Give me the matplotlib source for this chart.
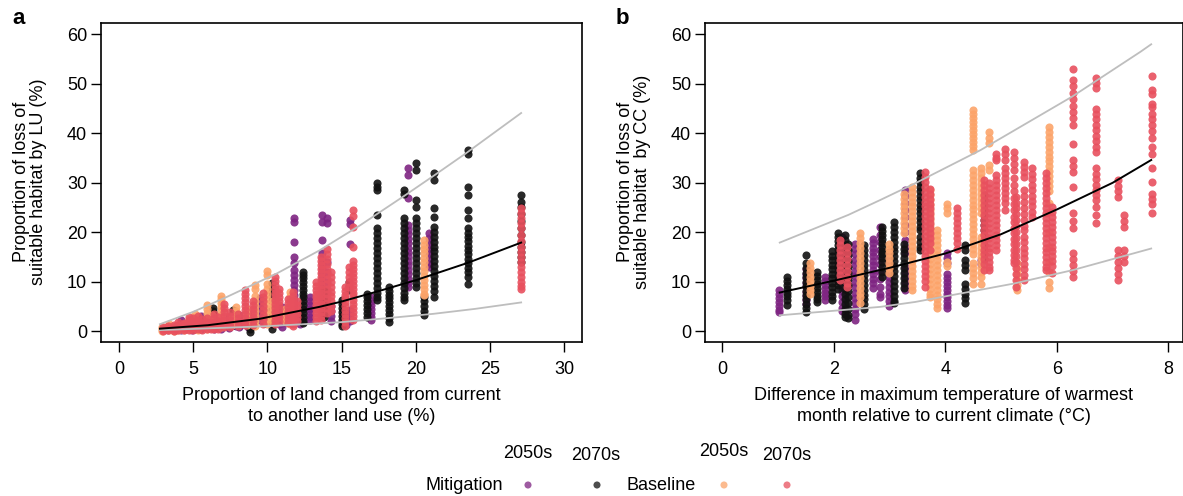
import matplotlib
matplotlib.use("Agg")
import matplotlib.pyplot as plt

plt.rcParams['font.family'] = ['Liberation Sans', 'DejaVu Sans']

# colours: mitigation 2050s / 2070s, baseline 2050s / 2070s
c_mit50 = '#7E2482'
c_mit70 = '#111111'
c_base50 = '#FCA46A'
c_base70 = '#E8505E'

# ---- panel a : loss by land use vs proportion of land changed ----
# each entry: (x, [y values in that column])
lu_mit50 = [
    (3.3, [0.2, 0.7]),
    (3.7, [0.3, 0.9]),
    (4.2, [0.3, 0.9, 1.6, 2.3]),
    (4.9, [0.2, 0.8, 1.4]),
    (5.1, [0.5, 1.2, 2.0]),
    (5.5, [0.4, 1.0, 1.7, 2.4, 3.0]),
    (6.0, [0.6, 1.3, 2.1, 2.9]),
    (6.4, [0.4, 1.1, 1.8]),
    (6.9, [0.5, 1.2, 2.0]),
    (7.4, [0.6, 1.3, 2.0, 2.8]),
    (7.9, [1.0, 1.8, 2.6, 3.4]),
    (8.1, [0.8, 1.6, 2.4, 3.2]),
    (8.7, [0.9, 1.7, 2.5, 3.3, 4.1]),
    (9.5, [6.7, 6.0, 5.2, 4.4, 3.6, 2.8, 2.2]),
    (9.8, [4.8, 4.0, 3.2, 2.4, 1.6]),
    (10.8, [1.5, 2.3, 3.1]),
    (11.0, [4.9, 4.1, 3.3, 2.5, 1.7, 0.9]),
    (11.8, [22.8, 22.1, 18.1, 15.0, 13.7, 12.3, 11.3, 10.3, 9.3, 8.3, 7.3, 6.3, 5.3, 4.3, 3.3, 2.3]),
    (12.2, [3.0, 2.2, 1.5]),
    (12.9, [6.9, 6.1, 5.3, 4.5, 3.7, 2.9, 2.2]),
    (13.7, [23.5, 22.1, 18.4, 15.8, 14.8, 13.8, 12.8, 11.8, 10.8, 9.8, 8.8, 7.8, 6.8, 5.8, 4.8, 3.8, 3.0]),
    (14.0, [22.8, 21.8, 14.0, 12.0, 10.0, 8.0]),
    (14.3, [5.0, 4.0, 3.0, 2.0]),
    (15.3, [2.8, 2.0, 1.3]),
    (15.6, [22.4, 21.7, 17.7, 4.2, 3.4, 2.6, 2.0]),
    (17.0, [6.9, 6.1, 5.3, 4.5, 3.7, 2.9, 2.3]),
    (19.5, [32.9, 31.5, 27.0, 21.4, 20.5, 19.6, 18.7, 17.8, 16.9, 16.0, 15.1, 14.2, 13.3, 12.4, 11.5, 10.6, 9.7, 9.0]),
    (20.9, [19.8, 18.9, 18.0, 17.1, 16.2, 15.3, 14.4, 13.5, 13.0]),
]
lu_mit70 = [
    (6.35, [4.6, 4.0, 3.4, 2.8, 2.2, 1.6]),
    (7.7, [4.2, 3.6, 3.0, 2.4, 1.8, 1.2]),
    (8.8, [2.9, 1.6, 0.4, -0.2]),
    (10.3, [9.7, 9.0, 8.0, 7.0, 6.0, 4.5, 3.0, 1.5, 0.5]),
    (12.4, [12.0, 11.4, 10.8, 10.0, 9.2, 8.4, 7.6, 6.8, 6.0, 5.2, 4.4, 3.6, 2.8, 2.0, 1.6]),
    (13.8, [8.4, 7.6, 6.8, 6.0, 5.2, 4.4, 3.6, 2.9]),
    (15.0, [6.3, 5.5, 4.7, 3.9, 3.1, 2.3, 1.5, 1.0]),
    (15.5, [10.0, 9.2, 8.4]),
    (16.7, [7.6, 6.8, 6.0, 5.2, 4.4, 3.6, 2.9]),
    (17.4, [29.9, 29.2, 28.5, 23.5, 20.8, 19.8, 18.8, 17.8, 16.8, 15.8, 14.8, 13.8, 12.8, 11.8, 10.8, 9.8, 8.8, 7.8, 6.8, 6.3]),
    (18.2, [9.0, 8.2, 7.4, 6.6, 5.8, 5.0, 4.2, 3.4, 2.6, 1.9]),
    (19.2, [28.5, 27.8, 22.8, 21.8, 20.8, 19.8, 18.8, 17.8, 16.8, 15.8, 14.8, 13.8, 12.8, 11.8, 10.8, 9.8, 8.8, 7.8, 6.8, 6.3]),
    (20.0, [33.9, 32.6, 26.5, 25.1, 22.8, 21.8, 20.8, 19.8, 18.8, 17.8, 16.8, 15.8, 14.8, 13.8, 12.8, 11.8, 10.8, 9.8, 9.0]),
    (20.55, [6.9, 6.0, 5.0, 4.0, 3.2]),
    (21.2, [31.9, 30.6, 24.8, 23.1, 21.1, 20.1, 19.1, 18.1, 17.1, 16.1, 15.1, 14.1, 13.1, 12.1, 11.1, 10.1, 9.1, 8.1, 6.9]),
    (23.5, [36.6, 35.9, 29.2, 27.5, 24.5, 22.8, 20.8, 19.8, 19.1, 18.2, 17.3, 16.4, 15.5, 14.6, 13.7, 12.8, 11.9, 11.0, 9.6]),
    (27.1, [27.5, 26.2, 25.0, 23.7, 22.2, 20.8, 19.4, 18.1, 17.0, 16.0, 15.0, 14.0]),
]
lu_base50 = [
    (2.9, [0.1, 0.5, 0.9]),
    (3.4, [0.2, 0.6, 1.1, 1.5]),
    (3.7, [0.1, 0.5, 0.9]),
    (4.0, [0.3, 0.8, 1.3]),
    (4.4, [0.3, 0.9, 1.5]),
    (4.7, [0.4, 1.0, 1.7, 2.4]),
    (5.1, [0.6, 1.3, 2.0, 2.7, 3.4]),
    (5.3, [0.3, 0.9, 1.6]),
    (5.9, [5.3, 4.5, 3.7, 2.9, 2.1, 1.3, 0.5]),
    (6.3, [0.8, 1.6, 2.4, 3.2]),
    (6.9, [7.2, 6.4, 5.6, 4.8, 4.0, 3.2, 2.4, 1.6, 0.8]),
    (7.6, [1.2, 2.0, 2.8]),
    (7.9, [1.6, 2.4, 3.2, 4.0, 4.8]),
    (8.6, [1.2, 2.0, 2.8, 3.6, 4.4]),
    (9.2, [9.3, 8.5, 7.0, 6.0, 5.0, 4.0, 3.0, 2.0, 1.0]),
    (9.95, [12.2, 11.4, 9.5, 8.5, 7.5, 6.5, 5.5, 4.5, 3.5, 2.5, 1.5]),
    (10.4, [2.0, 3.0, 4.0, 5.0, 6.0]),
    (11.2, [2.0, 2.8, 3.6, 4.4]),
    (11.5, [7.9, 7.1, 6.3, 5.5, 4.7, 3.9, 3.1, 2.3, 1.5]),
    (20.55, [18.4, 17.5, 16.6, 15.7, 14.8, 13.9, 13.0, 12.1, 11.2, 10.3, 9.4, 8.5, 7.6, 7.3]),
]
lu_base70 = [
    (3.0, [0.0, 0.4, 0.8]),
    (3.3, [0.2, 0.6, 1.0]),
    (3.7, [0.1, 0.5, 0.9, 1.3]),
    (4.0, [0.3, 0.8, 1.3, 1.9]),
    (4.4, [0.2, 0.7, 1.2, 1.7]),
    (4.7, [0.3, 0.9, 1.5, 2.2, 2.9]),
    (5.0, [0.2, 0.8, 1.4, 2.0, 2.6]),
    (5.3, [0.4, 1.0, 1.6, 2.3, 3.0]),
    (5.6, [0.3, 1.0, 1.7, 2.4]),
    (5.9, [0.4, 1.1, 1.8, 2.6]),
    (6.2, [0.4, 1.0, 1.6]),
    (6.4, [0.5, 1.2, 1.9, 2.7, 3.4]),
    (6.7, [0.5, 1.2, 2.0, 2.8]),
    (7.1, [5.5, 4.7, 3.9, 3.1, 2.3, 1.5, 0.8]),
    (7.5, [0.9, 1.6, 2.3, 3.1, 3.9]),
    (8.0, [1.0, 1.8, 2.6, 3.4]),
    (8.5, [8.3, 7.5, 6.7, 5.9, 5.1, 4.3, 3.5, 2.7, 1.9, 1.2]),
    (9.0, [1.2, 2.0, 2.8, 3.6, 4.4, 5.2, 6.0]),
    (9.7, [1.5, 2.4, 3.3, 4.2, 5.1, 6.0, 6.9, 7.8]),
    (10.5, [11.0, 10.2, 9.4, 8.6, 7.8, 7.0, 6.2, 5.4, 4.6, 3.8, 3.0, 2.2, 1.4]),
    (10.8, [8.5, 7.7, 6.9, 6.1, 5.3, 4.5, 3.7, 2.9, 2.1]),
    (11.4, [6.5, 5.7, 4.9, 4.1, 3.3, 2.5, 1.7]),
    (11.7, [7.9, 7.1, 6.3, 5.5, 4.7, 3.9, 3.1, 2.3, 1.5, 1.0]),
    (12.0, [6.0, 5.2, 4.4, 3.6, 2.8, 2.0]),
    (13.3, [10.0, 9.2, 8.4, 7.6, 6.8, 6.0, 5.2, 4.4, 3.6, 2.8, 2.0]),
    (13.6, [15.0, 14.2, 13.4, 12.6, 11.8, 11.0, 10.2, 9.4, 8.6, 7.8, 7.0, 6.2, 5.4, 4.6, 3.8, 3.0, 2.2]),
    (14.0, [16.6, 15.6, 14.6, 13.6, 12.6, 11.6, 10.6, 9.6, 8.6, 7.6, 6.6, 5.6, 4.6, 3.6]),
    (14.3, [12.0, 11.0, 10.0, 9.0, 8.0, 7.0, 6.0, 5.0, 4.0]),
    (15.2, [9.0, 8.2, 7.4, 6.6, 5.8, 5.0, 4.2, 3.4, 2.6, 1.8, 1.0]),
    (15.5, [13.0, 12.0, 11.0, 10.0, 9.0]),
    (15.8, [24.5, 23.3, 21.1, 17.1, 14.2, 13.4, 12.6, 11.8, 11.0, 10.2, 9.4, 8.6, 7.8, 7.0, 6.2, 5.4, 4.6, 3.8, 3.0, 2.2]),
    (27.1, [24.8, 23.8, 22.8, 21.8, 20.8, 19.5, 18.2, 17.0, 16.0, 15.0, 14.0, 13.0, 12.0, 11.0, 10.0, 9.2, 8.6]),
]
# fitted curve and bounds
lu_fit_x = [2.76, 6.0, 9.5, 13.5, 14.9, 17.4, 20.0, 23.5, 27.1]
lu_fit_y = [0.5, 1.2, 2.5, 4.9, 5.9, 8.0, 10.3, 13.8, 17.9]
lu_up_x = [2.76, 5.0, 7.26, 10.6, 13.5, 16.2, 19.2, 21.2, 23.4, 27.1]
lu_up_y = [1.4, 3.9, 6.9, 11.6, 16.3, 21.3, 27.3, 31.4, 36.0, 44.1]
lu_lo_x = [2.76, 10.0, 14.9, 18.0, 21.2, 24.0, 27.1]
lu_lo_y = [0.2, 1.0, 1.8, 2.6, 3.5, 4.5, 5.8]

# ---- panel b : loss by climate change vs warming ----
cc_mit50 = [
    (1.02, [8.3, 7.5, 6.7, 5.9, 5.1, 4.3, 3.9]),
    (1.50, [12.5, 11.6, 10.7, 9.8, 8.9, 8.0, 7.1, 6.2, 5.5]),
    (1.84, [11.0, 10.2, 9.4, 8.6, 7.8, 7.0, 6.2]),
    (2.15, [19.0, 17.8, 16.6, 15.4, 14.2, 13.0, 11.8, 10.6, 9.4, 8.2, 7.0, 5.8, 4.6, 4.0]),
    (2.38, [17.7, 16.6, 15.5, 14.4, 13.3, 12.2, 11.1, 10.0, 8.9, 7.8, 6.7, 5.6, 4.5, 3.4, 2.2]),
    (2.71, [18.7, 17.8, 16.9, 16.0, 15.1, 14.2, 13.3, 12.4, 11.5, 10.6, 9.7, 8.8]),
    (2.83, [21.0, 19.5, 18.0, 16.5, 15.0, 13.5, 12.0, 10.5, 9.0, 7.5, 6.9]),
    (2.98, [16.0, 15.0, 14.0, 13.0, 12.0, 11.0, 10.0, 9.0, 8.0, 7.0, 6.0, 5.0]),
    (3.28, [28.5, 27.3, 26.0, 24.5, 23.0, 21.5, 20.0, 18.5, 17.0, 15.7, 13.0, 12.0, 11.0, 10.0, 9.0, 8.3]),
    (4.03, [15.7, 14.7, 13.7, 11.6, 10.8, 10.0, 9.2, 8.4, 7.6, 6.8, 6.0, 5.2, 4.6]),
    (4.63, [14.3, 13.5]),
]
cc_mit70 = [
    (1.16, [11.0, 10.2, 9.4, 8.6, 7.8, 7.0, 6.2, 5.3]),
    (1.50, [15.4, 13.7, 12.7, 11.8, 10.9, 10.0, 9.1, 8.2, 7.3, 6.4, 5.5, 4.6, 3.9]),
    (1.69, [12.0, 11.2, 10.4, 9.6, 8.8, 8.0, 7.2, 6.4, 5.9]),
    (1.96, [16.1, 15.2, 14.3, 13.4, 12.5, 11.6, 10.7, 9.8, 8.9, 8.0, 7.1, 6.2]),
    (2.08, [19.8, 19.0, 18.2, 17.4, 16.6, 15.8, 15.0, 14.2, 13.4, 12.6, 11.8, 11.0, 10.2, 9.4, 8.6]),
    (2.20, [19.5, 18.5, 17.5, 16.5, 15.5, 14.5, 13.5, 12.5, 11.5, 10.5, 9.5, 8.5, 7.5, 6.5, 5.5, 4.5, 3.5, 2.9]),
    (2.26, [17.7, 16.5, 15.3, 14.1, 12.9, 11.7, 10.5, 9.3, 8.1, 6.9, 5.7, 4.5, 3.3, 2.6]),
    (2.54, [17.4, 16.4, 15.4, 14.4, 13.4, 12.4, 11.4, 10.4, 9.4, 8.4, 7.4, 6.4, 5.4, 4.5]),
    (2.86, [21.1, 20.3, 19.5, 18.7, 17.9, 17.1, 16.3, 15.5, 14.7, 13.9, 13.0, 12.0, 11.0]),
    (3.07, [22.1, 21.1, 20.1, 19.1, 18.1, 17.1, 16.1, 15.1, 14.1, 13.1, 12.1, 11.1, 10.1, 9.1, 8.1, 7.1, 6.1, 5.6]),
    (3.25, [17.7, 16.7, 15.7, 14.7, 13.7, 12.7, 11.7, 10.7, 9.7, 8.7]),
    (3.55, [31.9, 31.0, 30.1, 29.2, 28.3, 27.4, 26.5, 25.6, 24.7, 23.8, 22.9, 22.0, 21.1, 20.4, 19.0, 18.0, 17.0, 16.4]),
    (4.36, [17.4, 16.5, 14.3, 13.3, 12.3, 9.6, 8.6, 7.6, 6.6, 5.6]),
    (4.69, [27.5, 26.5, 25.5, 24.5, 23.5, 22.5, 21.5, 20.5, 19.5, 18.5, 17.5, 16.5, 15.5, 14.5]),
]
cc_base50 = [
    (1.57, [13.7, 12.8, 11.9, 11.0, 10.1, 9.2, 8.3, 7.6]),
    (2.47, [19.8, 18.8, 17.8, 16.8, 15.8, 14.8, 13.8, 12.8, 11.8, 10.8, 9.8, 8.8, 7.8, 6.8, 5.6]),
    (2.98, [17.7, 16.7, 15.7, 14.7, 13.7, 12.7, 11.8]),
    (3.25, [27.8, 26.8, 25.8, 24.8, 23.8, 22.8, 21.8, 20.8, 19.8]),
    (3.40, [29.2, 28.2, 27.2, 26.2, 25.2, 24.2, 23.2, 22.2, 21.2, 20.2, 19.2, 18.2, 17.2, 16.2,
            15.2, 14.2, 13.2, 12.2, 11.2, 10.2, 9.2, 8.3]),
    (3.73, [28.5, 27.5, 26.5, 25.5, 24.5, 23.5, 22.5, 21.5, 20.5, 19.5, 18.5, 17.5, 16.5, 15.5,
            14.5, 13.5, 12.5, 11.5, 10.5, 9.5, 8.5, 7.5, 6.9]),
    (3.85, [20.4, 19.4, 18.4, 17.4, 16.4, 15.4, 14.4, 13.4, 12.4, 11.4, 10.4, 9.4, 8.4, 7.4, 6.4, 5.4, 4.6]),
    (4.03, [25.7, 24.8, 23.8, 14.0, 13.2]),
    (4.49, [44.7, 43.9, 43.1, 42.3, 41.5, 40.7, 39.9, 39.1, 38.3, 37.5, 36.6, 32.6, 31.6, 30.6, 29.6,
            28.6, 27.6, 26.6, 25.6, 24.6, 23.6, 22.6, 21.6, 20.6, 19.6, 18.6, 17.6, 16.6, 15.6, 13.7,
            12.7, 11.7, 10.7, 9.6]),
    (4.63, [32.9, 31.9, 30.9, 29.9, 28.9, 27.9, 26.9, 25.9, 24.9, 23.8, 19.0, 18.0, 17.0, 16.0,
            15.0, 14.0, 13.0, 12.0, 11.0, 9.6]),
    (4.78, [40.3, 39.1, 38.0, 33.6, 32.5]),
    (5.29, [13.7, 12.6, 11.5, 10.4, 9.3, 8.3]),
    (5.86, [41.3, 40.3, 39.3, 38.3, 37.3, 36.3, 35.3, 34.3, 33.3, 32.3, 31.3, 30.3, 29.3, 28.3,
            26.0, 24.0, 20.0, 17.0, 14.0, 12.0, 10.0, 8.8]),
]
cc_base70 = [
    (2.11, [18.4, 17.4, 16.4, 15.4, 14.4, 13.4, 12.4, 11.4, 10.3]),
    (2.23, [17.0, 15.8, 14.6, 13.4, 12.2, 11.0, 9.8, 8.9]),
    (3.64, [32.2, 31.2, 30.2, 29.2, 28.2, 27.2, 26.2, 25.2, 24.2, 23.2, 22.2, 21.2, 20.2, 19.2,
            18.2, 17.2, 16.2, 15.2, 14.2, 13.2, 12.2, 11.2, 10.2, 9.0]),
    (3.73, [28.8, 27.8, 26.8, 25.8, 24.8, 23.8, 22.8, 21.8, 20.8, 19.8, 18.8, 17.8, 16.4]),
    (4.21, [24.8, 23.8, 22.8, 21.8, 20.8, 19.8, 18.8, 17.8, 16.7]),
    (4.69, [30.5, 29.5, 28.5, 27.5, 26.5, 25.5, 24.5, 23.5, 22.5, 21.5, 20.5, 19.5, 18.5, 17.5,
            16.5, 15.5, 14.5, 13.5, 12.3]),
    (4.78, [29.9, 28.9, 27.9, 26.9, 25.9, 24.9, 23.9, 22.9, 21.9, 20.9, 19.9, 18.9, 17.9, 16.9,
            15.9, 14.9, 13.9, 12.9, 12.3]),
    (4.90, [35.9, 35.0, 34.6, 31.5, 30.5, 29.5, 28.5, 27.5, 26.5, 25.5, 24.5, 23.5, 22.5, 21.5,
            20.5, 19.5, 18.5, 17.5, 16.4]),
    (5.06, [36.9, 35.8, 34.6, 32.9, 31.9, 30.9, 29.9, 28.9, 27.9, 26.9, 25.9, 24.5]),
    (5.23, [36.3, 35.0, 33.7, 32.5, 30.9, 29.6, 28.3, 27.0, 25.8, 24.5, 23.1, 22.0, 20.9, 19.8,
            18.7, 17.6, 16.5, 15.4, 14.3, 13.7]),
    (5.26, [27.2, 26.0, 24.8, 23.6, 22.4, 21.2, 20.0, 18.8, 17.6, 16.4, 15.2, 14.0, 12.8, 11.6,
            10.4, 9.0]),
    (5.41, [34.2, 33.2, 32.2, 31.2, 28.5, 27.3, 26.1, 24.9, 23.7, 22.5, 21.3, 20.4, 19.1, 18.0,
            16.9, 15.8, 14.7, 13.6, 12.5, 11.4, 10.3]),
    (5.56, [32.9, 31.8, 30.7, 29.6, 28.5, 27.4, 26.3, 25.2, 24.1, 23.1]),
    (5.80, [31.9, 30.9, 29.9, 28.9, 27.9, 26.9, 25.9, 24.9, 23.9, 22.9, 21.9, 20.9, 19.9, 18.9,
            17.9, 16.9, 15.9, 14.9, 13.9, 12.9, 12.3]),
    (5.92, [25.1, 24.1, 23.1, 22.1, 21.1, 20.1, 19.1, 18.1, 17.1, 16.1, 15.1, 14.1, 13.1, 11.7]),
    (6.28, [53.1, 50.8, 49.5, 48.1, 47.0, 45.6, 44.3, 43.0, 41.6, 37.9, 34.6, 33.4, 32.2, 29.2,
            23.8, 22.3, 20.8, 15.7, 14.5, 13.3, 12.1, 11.0]),
    (6.70, [51.1, 50.1, 49.1, 45.0, 43.9, 42.8, 41.7, 40.6, 39.5, 38.4, 37.3, 36.3, 32.9, 31.8,
            30.7, 29.6, 28.5, 27.5, 26.5, 25.1, 23.5, 21.8]),
    (7.09, [30.5, 29.4, 28.3, 27.2, 16.4, 15.2, 14.0, 12.8, 11.6, 10.3]),
    (7.21, [23.5, 22.3, 21.1, 16.4, 15.2, 14.0]),
    (7.70, [51.6, 48.7, 48.0, 46.0, 45.3, 44.0, 42.8, 41.6, 40.4, 39.0, 37.3, 35.9, 32.9, 30.2,
            27.8, 26.8, 25.8, 23.8]),
]
cc_fit_x = [1.03, 2.0, 3.0, 4.0, 5.0, 6.0, 7.0, 7.69]
cc_fit_y = [7.8, 10.2, 12.8, 15.7, 19.6, 24.6, 30.0, 34.6]
cc_up_x = [1.03, 2.26, 2.83, 3.46, 4.63, 6.27, 7.5, 7.69]
cc_up_y = [17.9, 23.5, 26.5, 29.9, 36.6, 47.4, 56.5, 58.0]
cc_lo_x = [1.03, 2.83, 3.46, 5.22, 6.27, 7.69]
cc_lo_y = [3.2, 4.9, 5.9, 9.6, 12.3, 16.7]


def flat(cols):
    xs = [x for x, ys in cols for _ in ys]
    ys = [y for _, ys in cols for y in ys]
    return xs, ys


W, H = 1183, 496
FS = 13
fig = plt.figure(figsize=(W / 100, H / 100), dpi=100)


def px_axes(l, t, r, b):
    return fig.add_axes([l / W, 1 - b / H, (r - l) / W, (b - t) / H])


ax_a = px_axes(101, 23, 582, 342)
ax_b = px_axes(705, 23, 1183, 342)

panels = [
    (ax_a, [lu_mit50, lu_mit70, lu_base50, lu_base70],
     (lu_fit_x, lu_fit_y), (lu_up_x, lu_up_y), (lu_lo_x, lu_lo_y),
     (-1.21, 31.2), [0, 5, 10, 15, 20, 25, 30]),
    (ax_b, [cc_mit50, cc_mit70, cc_base50, cc_base70],
     (cc_fit_x, cc_fit_y), (cc_up_x, cc_up_y), (cc_lo_x, cc_lo_y),
     (-0.31, 8.26), [0, 2, 4, 6, 8]),
]
cols = [c_mit50, c_mit70, c_base50, c_base70]

for ax, groups, fit, up, lo, xlim, xt in panels:
    for g, c in zip(groups, cols):
        xs, ys = flat(g)
        ax.scatter(xs, ys, s=34, color=c, alpha=0.9, linewidths=0, zorder=2)
    ax.plot(*up, color='#BEBEBE', lw=1.3, zorder=3)
    ax.plot(*lo, color='#BEBEBE', lw=1.3, zorder=3)
    ax.plot(*fit, color='black', lw=1.4, zorder=4)
    ax.set_xlim(*xlim)
    ax.set_ylim(-2.2, 62.3)
    ax.set_xticks(xt)
    ax.set_yticks([0, 10, 20, 30, 40, 50, 60])
    ax.tick_params(direction='out', length=7, width=1, labelsize=FS, pad=3)
    ax.tick_params(axis='x', pad=7)
    for s in ax.spines.values():
        s.set_linewidth(1.2)

# overlay in pixel coordinates for labels and legend
ov = fig.add_axes([0, 0, 1, 1])
ov.set_xlim(0, W)
ov.set_ylim(H, 0)
ov.axis('off')

ov.text(19, 18, 'a', fontsize=16, fontweight='bold', ha='center', va='center')
ov.text(622, 18, 'b', fontsize=16, fontweight='bold', ha='center', va='center')

ov.text(30, 182, 'Proportion of loss of\nsuitable habitat by LU (%)', rotation=90,
        ha='center', va='center', multialignment='center', fontsize=FS, linespacing=1.0)
ov.text(634, 182, 'Proportion of loss of\nsuitable habitat  by CC (%)', rotation=90,
        ha='center', va='center', multialignment='center', fontsize=FS, linespacing=1.0)

ov.text(341.5, 406, 'Proportion of land changed from current\nto another land use (%)',
        ha='center', va='center', multialignment='center', fontsize=FS, linespacing=1.3)
ov.text(944, 406, 'Difference in maximum temperature of warmest\nmonth relative to current climate (°C)',
        ha='center', va='center', multialignment='center', fontsize=FS, linespacing=1.3)

# legend
ov.text(527.5, 453, '2050s', ha='center', va='center', fontsize=FS)
ov.text(596, 455, '2070s', ha='center', va='center', fontsize=FS)
ov.text(724, 452, '2050s', ha='center', va='center', fontsize=FS)
ov.text(787, 455, '2070s', ha='center', va='center', fontsize=FS)
ov.text(503, 485, 'Mitigation', ha='right', va='center', fontsize=FS)
ov.text(696, 485, 'Baseline', ha='right', va='center', fontsize=FS)
ov.scatter([528, 597, 724, 787], [485, 485, 485, 485], s=26, color=cols, alpha=0.75, linewidths=0)

fig.savefig('out.png', dpi=100)
